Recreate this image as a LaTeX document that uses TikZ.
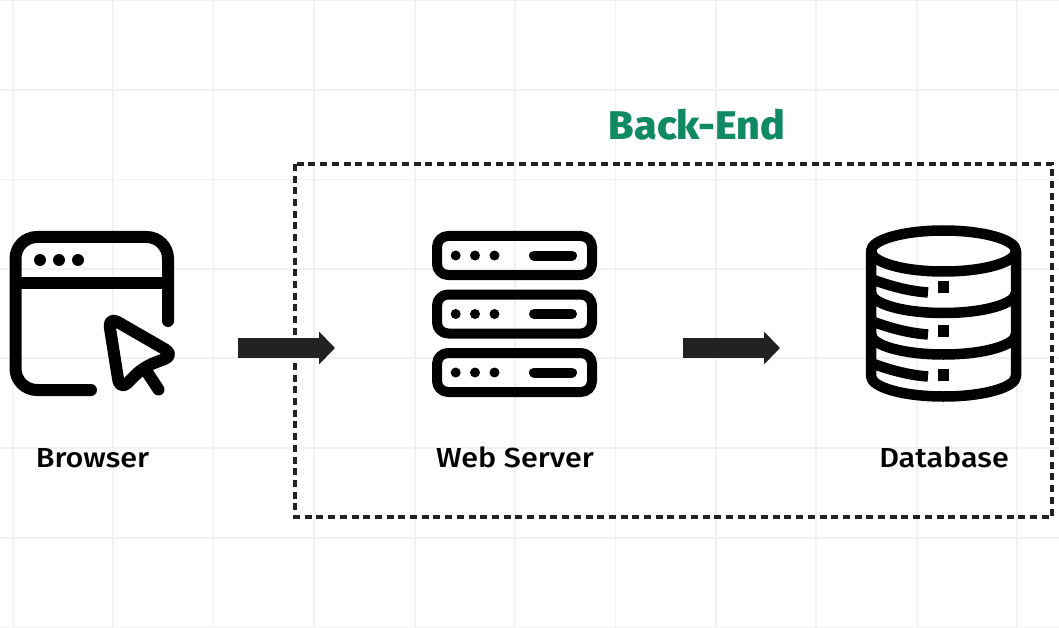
\documentclass[tikz,border=0pt]{standalone}
\usepackage{fontspec}
\setmainfont{Fira Sans Medium}[FakeStretch=1.11]
\newfontfamily\headfont{Fira Sans ExtraBold}[FakeStretch=1.03]
\usetikzlibrary{arrows.meta}
\definecolor{gridc}{HTML}{F1F1F1}
\definecolor{inkc}{HTML}{222222}
\definecolor{greenc}{HTML}{0F8A63}
\tikzset{
  gridline/.style={draw=gridc,line width=1.3pt},
  icon/.style={draw=black,line cap=round,line join=round},
  browserstroke/.style={icon,line width=12pt},
  serverstroke/.style={icon,line width=10pt},
  dbstroke/.style={draw=black,line width=10.5pt,line join=round,line cap=butt},
  dot/.style={fill=black},
  flow/.style={draw=inkc,line width=19.5pt,-{Triangle[length=16pt,width=32pt]}},
  label/.style={font=\fontsize{27.5}{30}\selectfont,text=black,anchor=base,inner sep=0pt},
  region/.style={draw=inkc,line width=4.4pt,dash pattern=on 7pt off 4.7pt},
}
\begin{document}
\begin{tikzpicture}[x=1pt,y=-1pt]
\useasboundingbox (0,0) rectangle (1059,628);
\fill[white] (0,0) rectangle (1059,628);
% grid
\foreach \gx in {13,113,213.5,314,415,515,615.5,716,816,917,1017}
  \draw[gridline] (\gx,0) -- (\gx,628);
\foreach \gy in {0.5,90,179.5,269,358,448,538,627.5}
  \draw[gridline] (0,\gy) -- (1059,\gy);
% region
\draw[region] (295,164) rectangle (1052,517);
% browser icon
\draw[browserstroke] (91,390) -- (37,390) arc[start angle=90,end angle=180,radius=21.5] -- (15.5,258.5) arc[start angle=180,end angle=270,radius=21.5] -- (146.5,237) arc[start angle=270,end angle=360,radius=21.5] -- (168,321);
\draw[icon,line width=12pt,line cap=butt] (15.5,283) -- (168,283);
\foreach \dx in {40,59,78} \fill[dot] (\dx,260) circle (6);
\draw[browserstroke,rounded corners=11pt] (108.1,316.5) -- (174.9,355) -- (143.3,367.2) -- (119.9,390.6) -- cycle;
\draw[browserstroke] (147,372) -- (158.5,389.5);
% server icon
\foreach \ry in {236,294.5,353}{
  \draw[serverstroke,rounded corners=11pt] (437,\ry) rectangle (592,\ry+39);
  \foreach \dx in {455.7,475,494.5} \fill[dot] (\dx,\ry+19.5) circle (5);
  \draw[serverstroke] (534,\ry+19.5) -- (572,\ry+19.5);
}
% database icon
\draw[dbstroke] (943.5,251) ellipse [x radius=72.5,y radius=20.5];
\draw[dbstroke] (871,251) -- (871,376) arc[start angle=180,end angle=0,x radius=72.5,y radius=20.5] -- (1016,251);
\draw[dbstroke] (871,292.5) arc[start angle=180,end angle=0,x radius=72.5,y radius=20.5];
\draw[dbstroke] (871,334) arc[start angle=180,end angle=0,x radius=72.5,y radius=20.5];
\foreach \by/\sy in {279/281,321/325,363/369.3}{
  \draw[dbstroke] (871,\by) .. controls (890,\by+7) and (908,\by+12) .. (928,\by+13.5);
  \fill[black] (937.7,\sy) rectangle (949,\sy+11.5);
}
% arrows
\coordinate (f1s) at (238,348);
\coordinate (f1e) at (335,348);
\coordinate (f2s) at (683,348);
\coordinate (f2e) at (780,348);
\draw[flow] (f1s) -- (f1e);
\draw[flow] (f2s) -- (f2e);
% labels
\node[label] (browser) at (92.5,467.5) {Browser};
\node[label] (server) at (515,467.5) {Web Server};
\node[label] (db) at (944,467.5) {Database};
\node[label,font=\headfont\fontsize{40}{44}\selectfont,text=greenc] (backend) at (697,139.5) {Back-End};
\end{tikzpicture}
\end{document}
